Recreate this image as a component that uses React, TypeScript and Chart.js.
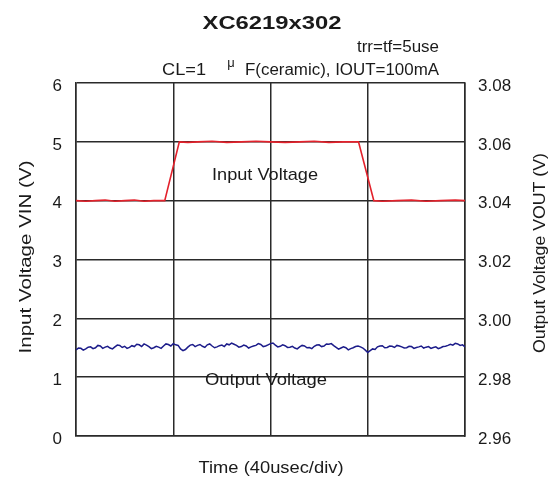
import React, { useEffect, useRef } from "react";
import { Chart, registerables } from "chart.js";

Chart.register(...registerables);

const FONT = '"Liberation Sans", Arial, Helvetica, sans-serif';

const titleText = "XC6219x302";
const subtitle1 = "trr=tf=5use";
const subtitle2a = "CL=1";
const subtitle2mu = "\u03bc";
const subtitle2b = "F(ceramic), IOUT=100mA";
const xTitle = "Time (40usec/div)";
const yLeftTitle = "Input Voltage VIN (V)";
const yRightTitle = "Output Voltage VOUT (V)";
const inputLabel = "Input Voltage";
const outputLabel = "Output Voltage";

const xTicks = [0, 40, 80, 120, 160];
const leftTicks = [0, 1, 2, 3, 4, 5, 6];
const rightTicks = ["2.96", "2.98", "3.00", "3.02", "3.04", "3.06", "3.08"];

const inputTimes = [0, 4, 8, 12, 16, 20, 24, 28, 32, 36.5, 42.5, 46, 50, 56, 62, 68, 74, 80, 86, 92, 98, 104, 110, 116.2, 122.5, 126, 132, 138, 144, 150, 156, 160];
const inputValues = [4.0, 3.99, 4.0, 4.01, 3.99, 4.0, 4.01, 3.99, 4.0, 4.0, 5.0, 4.99, 5.0, 5.01, 4.99, 5.0, 5.01, 5.0, 4.99, 5.0, 5.01, 4.99, 5.0, 5.0, 4.0, 3.99, 4.0, 4.01, 3.99, 4.0, 4.01, 4.0];

// sampled every 1 usec, 0..160
const outputValues = [
  2.9893, 2.9899, 2.9898, 2.9892, 2.9896, 2.9902, 2.9903, 2.9897, 2.99, 2.9908,
  2.9906, 2.9898, 2.9902, 2.9905, 2.9899, 2.9896, 2.9903, 2.9909, 2.9908, 2.9901,
  2.9905, 2.9898, 2.9901, 2.9907, 2.9904, 2.9912, 2.991, 2.9904, 2.9913, 2.9909,
  2.9904, 2.9897, 2.99, 2.9905, 2.9902, 2.9898, 2.9906, 2.9913, 2.9911, 2.9906,
  2.9914, 2.991, 2.9908, 2.9896, 2.989, 2.9894, 2.9902, 2.9909, 2.9911, 2.9904,
  2.9908, 2.9911, 2.9905, 2.9901, 2.991, 2.9913, 2.9906, 2.99, 2.9903, 2.9907,
  2.9909, 2.9904, 2.9913, 2.991, 2.9916, 2.9912, 2.9908, 2.9902, 2.9904, 2.9909,
  2.9906, 2.9899, 2.9903, 2.9906, 2.9908, 2.9914, 2.9911, 2.9904, 2.9906, 2.991,
  2.9914, 2.9916, 2.9909, 2.9903, 2.9905, 2.991, 2.9907, 2.9901, 2.9902, 2.9905,
  2.9899, 2.9896, 2.9903, 2.9908, 2.9906, 2.99, 2.9901, 2.9897, 2.9905, 2.9909,
  2.991, 2.9904, 2.9906, 2.9913, 2.9912, 2.9914, 2.9907, 2.9901, 2.9895, 2.9899,
  2.9903, 2.99, 2.9893, 2.9897, 2.99, 2.9904, 2.9906, 2.9903, 2.9899, 2.9892,
  2.9884, 2.989, 2.9896, 2.9894, 2.9903, 2.9906, 2.9907, 2.99, 2.9901, 2.9906,
  2.9905, 2.9901, 2.9908, 2.9906, 2.9903, 2.9899, 2.99, 2.9905, 2.9904, 2.9898,
  2.9901, 2.9903, 2.9906, 2.9899, 2.9902, 2.9904, 2.9898, 2.9901, 2.9903, 2.9897,
  2.99, 2.9904, 2.9905, 2.9908, 2.9912, 2.9909, 2.9915, 2.9913, 2.9908, 2.991,
  2.9903,
];
const outputTimes = outputValues.map((_, i) => i);

function drawFit(
  ctx: CanvasRenderingContext2D,
  text: string,
  x: number,
  y: number,
  font: string,
  align: CanvasTextAlign,
  targetWidth: number | null,
  rotate = 0
) {
  ctx.save();
  ctx.font = font;
  ctx.textAlign = align;
  ctx.textBaseline = "alphabetic";
  ctx.fillStyle = "#1a1a1a";
  ctx.translate(x, y);
  if (rotate) ctx.rotate(rotate);
  if (targetWidth) {
    const w = ctx.measureText(text).width;
    ctx.scale(targetWidth / w, 1);
  }
  ctx.fillText(text, 0, 0);
  ctx.restore();
}

const textPlugin = {
  id: "freeText",
  afterDraw(chart: any) {
    const ctx = chart.ctx as CanvasRenderingContext2D;
    drawFit(ctx, titleText, 272, 29, `bold 18px ${FONT}`, "center", 139);
    drawFit(ctx, subtitle1, 439, 52, `16px ${FONT}`, "right", 82);
    drawFit(ctx, subtitle2a, 162, 75, `16px ${FONT}`, "left", 44);
    drawFit(ctx, subtitle2mu, 231, 67, `13px ${FONT}`, "center", null);
    drawFit(ctx, subtitle2b, 245, 75, `16px ${FONT}`, "left", 194);
    drawFit(ctx, inputLabel, 265, 180, `17px ${FONT}`, "center", 106);
    drawFit(ctx, outputLabel, 266, 385, `17px ${FONT}`, "center", 122);
    drawFit(ctx, xTitle, 271, 473, `17px ${FONT}`, "center", 145);
    drawFit(ctx, yLeftTitle, 31, 257, `17px ${FONT}`, "center", 193, -Math.PI / 2);
    drawFit(ctx, yRightTitle, 545, 253, `17px ${FONT}`, "center", 200, -Math.PI / 2);
  },
};

export default function App() {
  const ref = useRef<HTMLCanvasElement | null>(null);
  useEffect(() => {
    document.body.style.margin = "0";
    const canvas = ref.current;
    if (!canvas) return;
    const gridColor = "#2a2a2a";
    const chart = new Chart(canvas, {
      type: "line",
      data: {
        datasets: [
          {
            label: "Input Voltage",
            data: inputTimes.map((t, i) => ({ x: t, y: inputValues[i] })),
            borderColor: "#e3212b",
            borderWidth: 1.6,
            pointRadius: 0,
            yAxisID: "y",
            tension: 0,
          },
          {
            label: "Output Voltage",
            data: outputTimes.map((t, i) => ({ x: t, y: outputValues[i] })),
            borderColor: "#1c1c8a",
            borderWidth: 1.5,
            pointRadius: 0,
            yAxisID: "y2",
            tension: 0,
          },
        ],
      },
      options: {
        animation: false,
        responsive: false,
        maintainAspectRatio: false,
        layout: { padding: { top: 83, left: 0, right: 0, bottom: 0 } },
        plugins: {
          legend: { display: false },
          tooltip: { enabled: false },
          title: { display: false },
        },
        scales: {
          x: {
            type: "linear",
            min: xTicks[0],
            max: xTicks[xTicks.length - 1],
            afterBuildTicks: (s: any) => {
              s.ticks = xTicks.map((v) => ({ value: v }));
            },
            ticks: { display: false },
            grid: { color: gridColor, lineWidth: 1.5, drawTicks: false },
            border: { color: gridColor, width: 1.5 },
            afterFit: (s: any) => {
              s.height = 45;
            },
          },
          y: {
            type: "linear",
            position: "left",
            min: 0,
            max: 6,
            afterBuildTicks: (s: any) => {
              s.ticks = leftTicks.map((v) => ({ value: v }));
            },
            ticks: {
              padding: 14,
              labelOffset: 3,
              color: "#1a1a1a",
              font: { family: FONT, size: 17 },
              callback: (v: any) => String(v),
            },
            grid: { color: gridColor, lineWidth: 1.5, drawTicks: false },
            border: { color: gridColor, width: 1.5 },
            afterFit: (s: any) => {
              s.width = 76;
            },
          },
          y2: {
            type: "linear",
            position: "right",
            min: 2.96,
            max: 3.08,
            afterBuildTicks: (s: any) => {
              s.ticks = rightTicks.map((v) => ({ value: parseFloat(v) }));
            },
            ticks: {
              padding: 13,
              labelOffset: 3,
              color: "#1a1a1a",
              font: { family: FONT, size: 17 },
              callback: (_v: any, i: number) => rightTicks[i],
            },
            grid: { display: false, drawTicks: false },
            border: { color: gridColor, width: 1.5 },
            afterFit: (s: any) => {
              s.width = 89;
            },
          },
        },
      },
      plugins: [textPlugin],
    } as any);
    return () => chart.destroy();
  }, []);
  return (
    <div style={{ width: 554, height: 481, background: "#fff" }}>
      <canvas ref={ref} width={554} height={481} style={{ width: 554, height: 481, display: "block" }} />
    </div>
  );
}
